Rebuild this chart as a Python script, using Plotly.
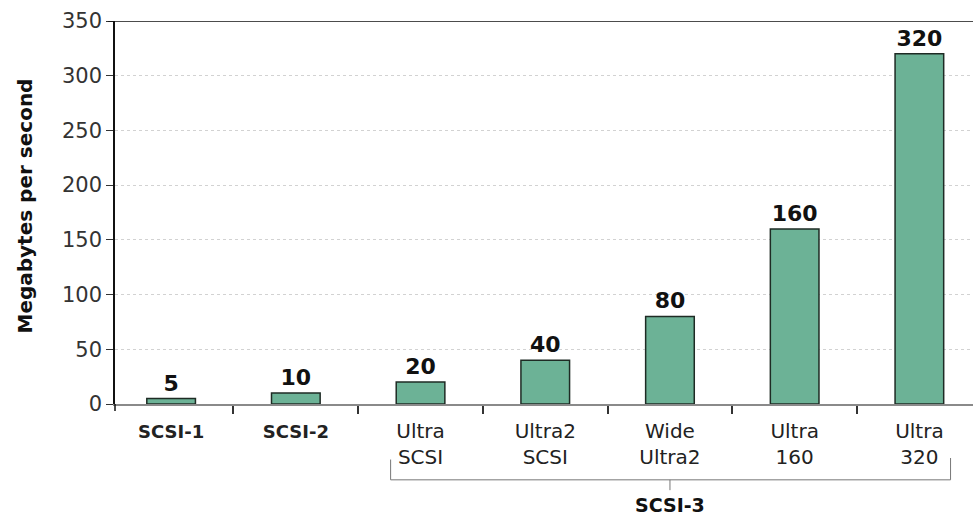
import plotly.graph_objects as go

categories = ["SCSI-1", "SCSI-2", "Ultra SCSI", "Ultra2 SCSI", "Wide Ultra2", "Ultra 160", "Ultra 320"]
tick_labels = [
    "<span style='font-size:18px'><b>SCSI-1</b></span>",
    "<span style='font-size:18px'><b>SCSI-2</b></span>",
    "Ultra<br>SCSI", "Ultra2<br>SCSI", "Wide<br>Ultra2", "Ultra<br>160", "Ultra<br>320",
]
values = [5, 10, 20, 40, 80, 160, 320]
y_ticks = [0, 50, 100, 150, 200, 250, 300, 350]
group_label = "SCSI-3"
y_title = "Megabytes per second"

FONT = "DejaVu Sans"

fig = go.Figure(go.Bar(
    x=categories, y=values,
    width=0.39,
    marker=dict(color="#6cb296", line=dict(color="#1e2b24", width=1.5)),
    text=[f"<b>{v}</b>" for v in values],
    textposition="outside",
    textfont=dict(family=FONT, size=22, color="#111"),
    cliponaxis=False,
))

fig.update_layout(
    width=973, height=518,
    margin=dict(l=115, r=0, t=21, b=114),
    plot_bgcolor="white", paper_bgcolor="white",
    showlegend=False,
    font=dict(family=FONT, color="#222"),
)

fig.update_xaxes(
    range=[-0.45, 6.43],
    tickmode="array", tickvals=categories, ticktext=tick_labels,
    tickson="boundaries", ticks="outside", ticklen=8, tickcolor="#333", tickwidth=1.5,
    tickfont=dict(family=FONT, size=20, color="#222"),
    ticklabelstandoff=8,
    showline=True, linecolor="#8a8a8a", linewidth=2,
    showgrid=False, automargin=False,
)

fig.update_yaxes(
    range=[0, 350],
    tickvals=y_ticks,
    ticks="outside", ticklen=7, tickcolor="#333", tickwidth=1,
    tickfont=dict(family=FONT, size=21, color="#333"),
    showline=True, linecolor="#111", linewidth=1.5,
    showgrid=True, gridcolor="#d2d2d2", griddash="dot", gridwidth=1,
    zeroline=False, automargin=False,
)

shapes = [
    dict(type="line", xref="paper", yref="y", x0=-0.008, x1=1, y0=350, y1=350, line=dict(color="#111", width=1.5)),
    dict(type="line", xref="paper", yref="paper", x0=0, x1=0, y0=0, y1=-0.018, line=dict(color="#111", width=1.5)),
    dict(type="line", xref="x", yref="paper", x0=1.76, x1=6.25, y0=-0.198, y1=-0.198, line=dict(color="#777", width=1)),
    dict(type="line", xref="x", yref="paper", x0=1.76, x1=1.76, y0=-0.198, y1=-0.145, line=dict(color="#777", width=1)),
    dict(type="line", xref="x", yref="paper", x0=6.25, x1=6.25, y0=-0.198, y1=-0.141, line=dict(color="#777", width=1)),
    dict(type="line", xref="x", yref="paper", x0=4.0, x1=4.0, y0=-0.198, y1=-0.225, line=dict(color="#777", width=1)),
]
fig.update_layout(shapes=shapes)

fig.add_annotation(
    x=4.0, xref="x", y=-0.264, yref="paper", xanchor="center", yanchor="middle",
    text=f"<b>{group_label}</b>", showarrow=False,
    font=dict(family=FONT, size=19, color="#111"),
)
fig.add_annotation(
    x=-0.105, xref="paper", y=0.518, yref="paper", xanchor="center", yanchor="middle",
    text=f"<b>{y_title}</b>", textangle=-90, showarrow=False,
    font=dict(family=FONT, size=20, color="#111"),
)

fig.write_html("out.html", config={"displayModeBar": False},
               post_script="document.body.style.margin='0';")
